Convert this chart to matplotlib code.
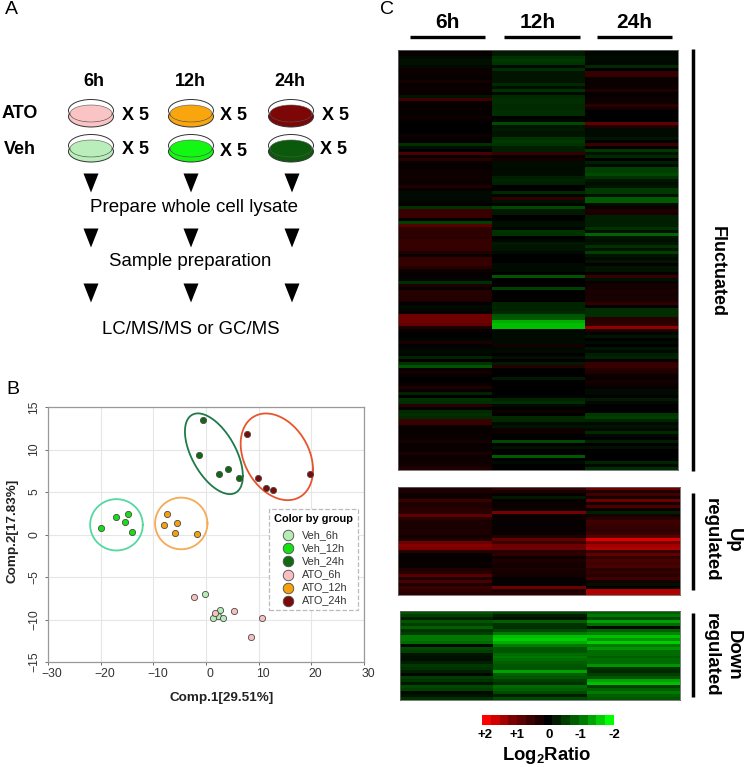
import numpy as np
import matplotlib
matplotlib.use("Agg")
import matplotlib.pyplot as plt
from matplotlib.colors import LinearSegmentedColormap
from matplotlib.patches import Ellipse, Polygon
from matplotlib.transforms import ScaledTranslation

plt.rcParams['font.family'] = ['Liberation Sans', 'DejaVu Sans']
plt.rcParams['mathtext.fontset'] = 'custom'
plt.rcParams['mathtext.bf'] = 'Liberation Sans:bold'

W, H = 745, 767

# ---- panel B data ----
groups = ["Veh_6h", "Veh_12h", "Veh_24h", "ATO_6h", "ATO_12h", "ATO_24h"]
group_colors = ["#b5ebb5", "#14e014", "#0f6b12", "#f7bfbf", "#f5a10f", "#7d0a0a"]

veh6_x = [-0.1, 2.7, 2.3, 1.3, 3.3]
veh6_y = [-7.0, -8.9, -9.6, -9.8, -9.8]
veh12_x = [-19.9, -17.0, -14.9, -15.4, -14.1]
veh12_y = [0.8, 2.1, 2.4, 1.5, 0.3]
veh24_x = [-0.6, -1.3, 2.5, 4.2, 6.3]
veh24_y = [13.5, 9.3, 7.1, 7.7, 6.7]
ato6_x = [-2.2, 1.7, 5.3, 10.6, 8.5]
ato6_y = [-7.3, -9.2, -9.0, -9.8, -12.0]
ato12_x = [-7.4, -7.9, -5.6, -5.9, -1.7]
ato12_y = [2.4, 1.1, 1.4, 0.2, 0.1]
ato24_x = [7.7, 9.8, 11.4, 12.8, 19.7]
ato24_y = [11.8, 6.7, 5.5, 5.2, 7.1]
points_x = [veh6_x, veh12_x, veh24_x, ato6_x, ato12_x, ato24_x]
points_y = [veh6_y, veh12_y, veh24_y, ato6_y, ato12_y, ato24_y]

# group ellipses: centre x, centre y, half width, half height, correlation
ell_veh12 = [-17.0, 1.14, 5.0, 3.02, 0.0]
ell_ato12 = [-4.7, 1.3, 4.97, 3.04, 0.0]
ell_veh24 = [1.5, 9.5, 5.5, 4.75, -0.55]
ell_ato24 = [13.45, 9.14, 6.87, 5.1, -0.3]
ell_colors = ["#55d8a0", "#f5ab55", "#1f7a4a", "#e8552d"]

# ---- panel C data, Log2 ratio per row ----
fluct_6h = [.05, .05, -.1, -.15, -.15, -.1, .1, .15, .05, .05,
            .2, .05, .1, .1, .1, -.2, .6, .1, .05, .05,
            .05, .05, .15, .05, 0, 0, 0, 0, .15, .05,
            .05, -.5, -.15, 0, .7, .1, .35, .1, .05, .05,
            .15, .15, .15, .15, .1, .3, .05, -.1, -.1, -.1,
            -.05, .05, -.5, .55, .55, .55, .05, -.6, .8, .45,
            .45, .45, .4, .5, .5, .5, .5, .3, .1, .5,
            .5, .5, .35, .15, .05, .05, -.05, -.45, .25, .1,
            .35, .35, .35, .3, .05, -.1, -.05, .05, 1.0, 1.0,
            1.0, .95, .3, .05, 0, 0, -.05, .25, .05, -.05,
            -.1, -.05, -.35, .05, -.5, -.8, .1, .2, .05, 0,
            0, .1, .3, .05, -.35, 0, -.5, -.45, .35, .05,
            -.4, -.45, -.4, .55, .55, .1, .05, .05, .1, .1,
            .2, .05, .1, .1, .25, .1, .15, .15, .2, .3]
fluct_12h = [-.25, -.25, -.5, -.55, -.5, -.1, -.45, -.2, -.2, -.2,
             -.2, -.4, -.15, -.5, -.1, -.4, -.45, -.45, -.4, -.4,
             -.45, -.45, -.02, -.05, -.7, -.2, -.25, -.2, -.2, -.5,
             -.55, -.5, -.3, -.3, .5, .05, .2, -.12, -.12, -.1,
             -.12, -.12, -.3, -.35, -.3, -.02, 0, -.4, -.05, .45,
             -.15, -.05, -.7, -.25, -.25, 0, -.02, -.15, -.15, -.05,
             -.5, -.5, 0, -.05, -.25, -.2, -.2, -.1, 0, 0,
             0, -.1, -.1, -.1, 0, -.8, 0, 0, 0, -.6,
             0, 0, 0, 0, -.35, -.35, -.35, -.4, -.8, -.85,
             -1.5, -1.6, -1.6, -.05, -.1, -.1, -.1, -.1, .2, -.05,
             -.1, 0, -.15, 0, -.25, .35, 0, 0, 0, -.25,
             0, 0, 0, 0, 0, -.02, -.35, -.45, -.1, 0,
             .15, 0, -.4, -.4, -.1, -.2, .15, .15, 0, 0,
             -.7, 0, -.15, 0, 0, -.85, 0, -.1, 0, 0]
fluct_24h = [-.05, -.05, -.1, -.1, -.05, -.4, 0, .5, .5, .1,
             .1, .1, .1, .3, .05, .05, .15, .15, .4, .2,
             0, 0, 0, 0, .9, .3, -.1, -.1, -.1, -.2,
             0, .55, .05, -.55, -.2, -.4, 0, -.3, -.1, -.6,
             -.6, -.7, -.5, -.2, -.15, -.2, -.55, -.55, -.15, -.85,
             -.85, -.1, .1, .3, .25, -.3, -.3, -.3, -.3, -.5,
             -.15, -.95, -.2, -.15, -.2, -.5, -.2, -.6, -.2, -.1,
             -.2, .05, -.2, -.2, .05, .5, -.15, .1, .2, .2,
             .25, .2, .25, .25, .45, .05, -.45, -.45, -.45, .4,
             .4, .45, 1.3, .3, -.05, -.2, 0, -.1, 0, -.2,
             -.1, -.3, -.35, .1, .5, .55, .35, .3, .1, .1,
             .2, .15, .05, -.1, -.1, 0, -.25, -.1, 0, 0,
             0, -.55, -.6, -.35, -.1, -.2, -.1, -.4, -.1, 0,
             -.3, 0, -.15, 0, 0, 0, 0, -.35, -.1, -.45]

up_6h = [.3, .25, .15, .15, .55, .3, .3, .4, .4, .9, .4, .25,
         .25, .25, .3, .25, .2, .3, 1.0, 1.2, 1.1, .4, .05, .05,
         .05, .1, .05, .3, .4, .8, .3, .7, .25, .55, .45, .4]
up_12h = [.5, .25, .05, -.25, .05, .1, .1, .1, 1.1, .1, .1, .05,
          .05, .05, .05, .1, .3, .9, .6, 1.0, 1.0, .4, .45, .15,
          .3, .2, .2, .25, .2, .2, .05, .05, .05, 1.0, .3, .4]
up_24h = [1.0, .3, .6, .2, 1.0, .2, .7, .15, -.3, .2, .4, .6,
          .55, .5, .45, .55, .8, 1.8, 1.1, 1.4, 1.5, .5, .9, .5,
          .7, .6, .7, .4, .5, .4, .6, .2, -.15, .1, 1.5, 1.5]

down_6h = [-.8, -.6, -.3, -.8, -.6, -.9, -.5, -.6, -1.1, -1.1,
           -1.0, -.1, -.7, -.6, -.2, -.15, -.15, -.3, -.55, -.5,
           -.3, -.05, -.6, -.5, -.25, -.7, -.6, -.1, -.2, -.5]
down_12h = [-.7, -.3, -.15, -.9, -.5, -.45, -.7, -1.1, -1.6, -1.7,
            -1.5, -1.1, -.8, -.8, -1.0, -1.1, -1.0, -.9, -.8, -.8,
            -1.4, -.9, -.8, -.6, -.5, -1.0, -.9, -.7, -.3, -.7]
down_24h = [-.9, -1.1, -.7, -1.4, -1.0, -.05, -.9, -1.2, -1.6, -1.3,
            -1.7, -1.1, -1.3, -1.0, -1.0, -.9, -1.0, -1.0, -1.3, -.5,
            -.4, -.6, -.8, -1.4, -1.6, -.6, -.9, -1.1, -.9, -.8]

scale_values = [2, 1.7, 1.43, 1.14, .86, .57, .29, 0, -.29, -.57, -.86, -1.14, -1.43, -1.7, -2]
scale_labels = ["+2", "+1", "0", "-1", "-2"]
time_labels = ["6h", "12h", "24h"]

# ---- panel A data ----
dish_ato = ["#fbc4c4", "#f8a50e", "#7d0606"]
dish_veh = ["#b9edb9", "#12f812", "#0b5a0b"]

# около нуля темнее чем линейная шкала
cmap = LinearSegmentedColormap.from_list("rg", [
    (0.0, (0, 1, 0)), (0.125, (0, 0.68, 0)), (0.25, (0, 0.42, 0)), (0.375, (0, 0.2, 0)), (0.5, (0, 0, 0)),
    (0.625, (0.2, 0, 0)), (0.75, (0.42, 0, 0)), (0.875, (0.68, 0, 0)), (1.0, (1, 0, 0))])


def px_axes(x0, y0, x1, y1):
    # оси по пиксельной рамке картинки
    return fig.add_axes([x0 / W, 1 - y1 / H, (x1 - x0) / W, (y1 - y0) / H])


def heatmap(x0, y0, x1, y1, cols, edges):
    a = px_axes(x0, y0, x1, y1)
    data = np.array(cols).T
    a.pcolormesh(edges, np.arange(data.shape[0] + 1), data, cmap=cmap, vmin=-2, vmax=2)
    a.set_ylim(data.shape[0], 0)
    a.set_xlim(0, 3)
    a.set_xticks([])
    a.set_yticks([])
    for s in a.spines.values():
        s.set_color("#666666")
        s.set_linewidth(0.6)


def dish(x, y, color):
    bg.add_patch(Ellipse((x, y + 4), 45, 21, fc=color, ec="#333333", lw=0.7))
    bg.add_patch(Ellipse((x, y - 2), 45, 22, fc="white", ec="#333333", lw=0.7))
    bg.add_patch(Ellipse((x, y + 1), 42, 17, fc=color, ec="#555555", lw=0.4))


def group_ellipse(a, params, color):
    cx, cy, sx, sy, r = params
    t = np.linspace(0, 2 * np.pi, 200)
    a.plot(cx + sx * np.cos(t), cy + sy * (r * np.cos(t) + np.sqrt(1 - r**2) * np.sin(t)),
           color=color, lw=1.3, zorder=2)


fig = plt.figure(figsize=(W / 100, H / 100), dpi=100)

# общий слой в пикселях для текста и схемы
bg = fig.add_axes([0, 0, 1, 1])
bg.set_xlim(0, W)
bg.set_ylim(H, 0)
bg.axis("off")

bg.text(5, 10, "A", fontsize=14, ha="left", va="center")
bg.text(6, 389, "B", fontsize=14, ha="left", va="center")
bg.text(380, 9, "C", fontsize=14, ha="left", va="center")

# Панель A
for name, x in zip(time_labels, [94, 190, 290]):
    bg.text(x, 82, name, fontsize=13, fontweight="bold", ha="center", va="center")
bg.text(20, 114, "ATO", fontsize=13, fontweight="bold", ha="center", va="center")
bg.text(20, 149, "Veh", fontsize=13, fontweight="bold", ha="center", va="center")
for i, x in enumerate([91, 191, 291]):
    dish(x, 112.5, dish_ato[i])
    dish(x, 147.5, dish_veh[i])
for x, y in [(135, 116), (234, 116), (335, 116), (135, 150), (233, 151), (334, 150)]:
    bg.text(x, y, "X 5", fontsize=13, fontweight="bold", ha="center", va="center")
for y in [183, 238, 293]:
    for x in [91, 191, 292]:
        bg.add_patch(Polygon([(x - 7.5, y - 9.5), (x + 7.5, y - 9.5), (x, y + 9.5)], fc="black", ec="none"))
bg.text(194, 207, "Prepare whole cell lysate", fontsize=13.5, ha="center", va="center")
bg.text(190, 262, "Sample preparation", fontsize=13.4, ha="center", va="center")
bg.text(191, 329, "LC/MS/MS or GC/MS", fontsize=13.45, ha="center", va="center")

# Панель B
ax = px_axes(48, 407, 364, 662)
for i, g in enumerate(groups):
    ax.scatter(points_x[i], points_y[i], s=20, color=group_colors[i], edgecolor="#4a4a4a",
               linewidth=0.6, zorder=3, label=g)
group_ellipse(ax, ell_veh12, ell_colors[0])
group_ellipse(ax, ell_ato12, ell_colors[1])
group_ellipse(ax, ell_veh24, ell_colors[2])
group_ellipse(ax, ell_ato24, ell_colors[3])
ax.set_xlim(-30, 30)
ax.set_ylim(-15, 15)
ax.set_xticks(range(-30, 31, 10))
ax.set_yticks(range(-15, 16, 5))
ax.grid(color="#e6e6e6", lw=0.8)
ax.set_axisbelow(True)
ax.tick_params(labelsize=8.7, labelcolor="#333333", color="#555555", length=2.5, width=0.6, pad=2)
ax.tick_params(axis="y", pad=3)
for s in ax.spines.values():
    s.set_color("#999999")
    s.set_linewidth(0.9)
for lab in ax.get_yticklabels():
    lab.set_rotation(90)
    lab.set_va("center")
for lab in ax.get_xticklabels():
    lab.set_transform(lab.get_transform() + ScaledTranslation(4 / 100, 0, fig.dpi_scale_trans))
leg = ax.legend(loc="upper left", bbox_to_anchor=(0.699, 0.6), borderaxespad=0, markerscale=1.7, fontsize=7.8,
                title="Color by group", title_fontproperties={"weight": "bold", "size": 7.9},
                fancybox=False, labelspacing=0.28, borderpad=0.45, handlelength=1.7, handletextpad=0.5,
                framealpha=1)
leg._legend_box.sep = 4.6
leg.get_frame().set_edgecolor("#bbbbbb")
leg.get_frame().set_linestyle("--")
leg.get_frame().set_linewidth(0.9)
for t in leg.get_texts():
    t.set_color("#333333")
bg.text(222, 698, "Comp.1[29.51%]", fontsize=9.7, fontweight="bold", color="#222222", ha="center", va="center")
bg.text(13, 531, "Comp.2[17.83%]", fontsize=9.7, fontweight="bold", color="#222222", rotation=90,
        ha="center", va="center")

# Панель C
for name, x in zip(time_labels, [447, 538, 634]):
    bg.text(x, 23, name, fontsize=15, fontweight="bold", ha="center", va="center")
for x0, x1 in [(410, 485), (504, 580), (597, 672)]:
    bg.plot([x0, x1], [37, 37], color="black", lw=2.4, solid_capstyle="butt")

# границы столбцов у блоков немного разные
heatmap(398, 50, 678, 470, [fluct_6h, fluct_12h, fluct_24h], [0, 1.007, 2.007, 3])
heatmap(398, 487, 680, 595, [up_6h, up_12h, up_24h], [0, 1.0, 2.005, 3])
heatmap(400, 611, 680, 700, [down_6h, down_12h, down_24h], [0, 1.0, 2.003, 3])

for y0, y1 in [(49, 471), (493, 590), (613, 697)]:
    bg.plot([693, 693], [y0, y1], color="black", lw=2.5, solid_capstyle="butt")
bg.text(717, 272, "Fluctuated", fontsize=13, fontweight="bold", rotation=-90, ha="center", va="center")
bg.text(733, 540, "Up", fontsize=13.4, fontweight="bold", rotation=-90, ha="center", va="center")
bg.text(711, 540, "regulated", fontsize=13.4, fontweight="bold", rotation=-90, ha="center", va="center")
bg.text(733, 655, "Down", fontsize=13.4, fontweight="bold", rotation=-90, ha="center", va="center")
bg.text(711, 655, "regulated", fontsize=13.4, fontweight="bold", rotation=-90, ha="center", va="center")

# шкала цвета
cb = px_axes(482, 715, 614, 725)
cb.pcolormesh([scale_values], cmap=cmap, vmin=-2, vmax=2)
cb.axis("off")
for lab, x in zip(scale_labels, [485, 517, 549, 580, 614]):
    bg.text(x, 735, lab, fontsize=9.5, fontweight="bold", ha="center", va="center")
bg.text(547, 756, r"Log$_{\mathbf{2}}$Ratio", fontsize=13.3, fontweight="bold", ha="center", va="center")

fig.savefig("out.png", dpi=100)
